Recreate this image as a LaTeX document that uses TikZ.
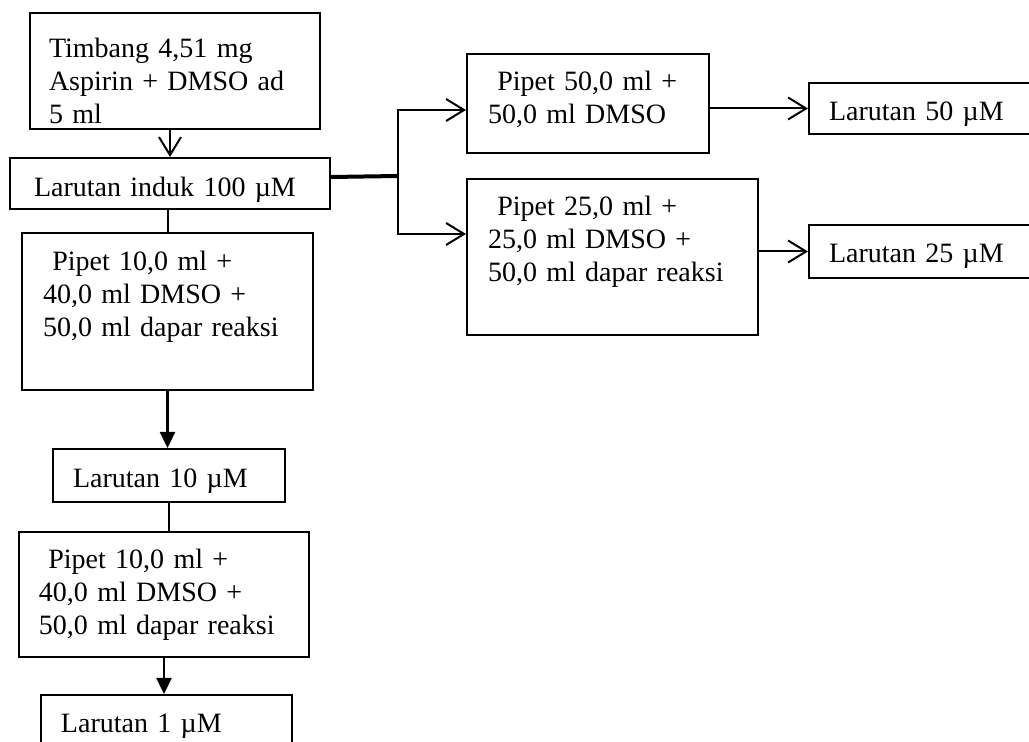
\documentclass[tikz,border=0pt]{standalone}
\usepackage{fontspec}
\setmainfont{Liberation Serif}
\usetikzlibrary{arrows.meta}
\tikzset{
  flowbox/.style={draw, line width=1pt, anchor=north west, align=left,
    inner ysep=0pt, font=\fontsize{14}{16.3}\selectfont},
  openarrow/.style={line width=1pt, -{Straight Barb[length=9pt,width=11pt]}},
  fillarrow/.style={line width=1.2pt, -{Triangle[length=8pt,width=7.5pt]}},
}

\begin{document}
\begin{tikzpicture}[x=0.5pt,y=-0.5pt]
  \useasboundingbox (0,0) rectangle (1029,742);
  \clip (0,0) rectangle (1029,742);

  % left column
  \node[flowbox, inner xsep=9.5pt, text width=126pt, text height=22.5pt, text depth=35.5pt]
    (weigh) at (29,12) {Timbang 4,51 mg\\Aspirin + DMSO ad\\5 ml};
  \node[flowbox, inner xsep=12pt, text width=136pt, text height=19.5pt, text depth=6pt]
    (stock) at (9,157) {Larutan induk 100 µM};
  \node[flowbox, inner xsep=10.5pt, text width=124.5pt, text height=19pt, text depth=59.5pt]
    (dil10) at (21,232) {\ Pipet 10,0 ml +\\40,0 ml DMSO +\\50,0 ml dapar reaksi};
  \node[flowbox, inner xsep=10pt, text width=96pt, text height=19.5pt, text depth=7pt]
    (sol10) at (52,448) {Larutan 10 µM};
  \node[flowbox, inner xsep=10pt, text width=125pt, text height=18.5pt, text depth=44pt]
    (dil1) at (18,531) {\ Pipet 10,0 ml +\\40,0 ml DMSO +\\50,0 ml dapar reaksi};
  \node[flowbox, inner xsep=10pt, text width=105.5pt, text height=19pt, text depth=14pt]
    (sol1) at (40,694) {Larutan 1 µM};

  % right branch
  \node[flowbox, inner xsep=10.5pt, text width=100pt, text height=18.5pt, text depth=31pt]
    (dil50) at (466,53) {\ Pipet 50,0 ml +\\50,0 ml DMSO};
  \node[flowbox, inner xsep=10.5pt, text width=124.5pt, text height=18.5pt, text depth=59.5pt]
    (dil25) at (466,178) {\ Pipet 25,0 ml +\\25,0 ml DMSO +\\50,0 ml dapar reaksi};
  \node[flowbox, inner xsep=10pt, text width=96pt, text height=19pt, text depth=6.5pt]
    (sol50) at (808,82) {Larutan 50 µM};
  \node[flowbox, inner xsep=10pt, text width=96pt, text height=19pt, text depth=7.5pt]
    (sol25) at (808,224) {Larutan 25 µM};

  % connectors
  \draw[openarrow] (weigh.south -| stock.north) -- (stock.north);
  \coordinate (split) at (398,176);
  \draw[line width=2pt] ([yshift=3.25pt]stock.east) -- (split);
  \draw[openarrow] (split) |- ([yshift=-3.25pt]dil50.west);
  \draw[openarrow] (split) |- ([yshift=11.5pt]dil25.west);
  \draw[openarrow] (dil50.east |- sol50.west) -- (sol50.west);
  \draw[openarrow] (dil25.east |- sol25.west) -- (sol25.west);

  \draw[line width=1pt] (dil10.north |- stock.south) -- (dil10.north);
  \draw[fillarrow] (dil10.south) -- (dil10.south |- sol10.north);
  \draw[line width=1pt] (sol10.south) -- (sol10.south |- dil1.north);
  \draw[fillarrow] (dil1.south) -- (dil1.south |- sol1.north);
\end{tikzpicture}
\end{document}
